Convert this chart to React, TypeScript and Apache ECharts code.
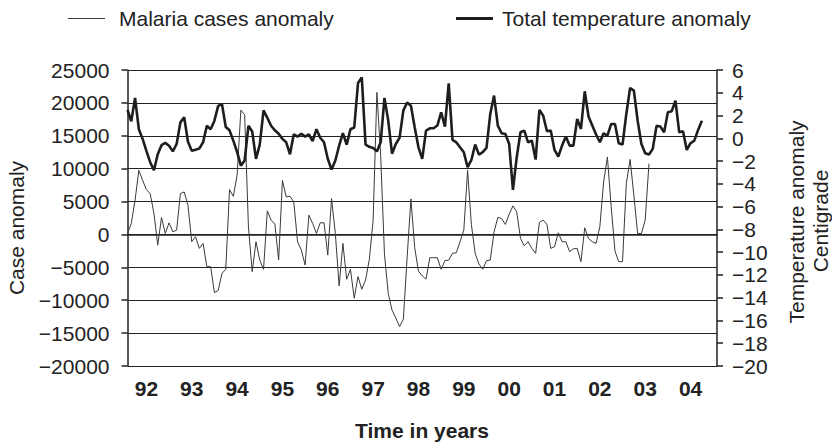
import React, { useEffect, useRef } from "react";
import * as echarts from "echarts";

const FONT = "'Liberation Sans', Arial, Helvetica, sans-serif";
const TEXT = "#222";

// Years shown on the x axis (monthly data, Jan 1992 .. Jan 2005 span)
const yearLabels = ["92", "93", "94", "95", "96", "97", "98", "99", "00", "01", "02", "03", "04"];
const monthNames = ["Jan", "Feb", "Mar", "Apr", "May", "Jun", "Jul", "Aug", "Sep", "Oct", "Nov", "Dec"];

// Malaria cases anomaly (monthly, from Jan 1992)
const malaria = [
  150, 1670, 5200, 9750, 8230, 6820, 6200, 3200, -1620, 2580,
  150, 1770, 400, 660, 6210, 6460, 4440, -1110, -350, -2120,
  -1360, -4900, -4900, -8840, -8530, -5910, -5300, 6820, 5800, 8990,
  18900, 18200, 1160, -5660, -1110, -3890, -5300, 3590, 2170, 1570,
  -3890, 8230, 5710, 5800, 4950, -1110, -2370, -4650, 2930, 1670,
  150, 1770, 1770, -3130, 5450, 150, -7830, -1360, -6820, -5300,
  -9700, -6410, -8330, -6920, -3790, 2170, 21600, 12000, -3000, -9000,
  -11500, -12700, -14000, -12900, -3500, 5400, -2000, -5600, -6300, -6800,
  -3540, -3540, -3540, -5300, -3990, -3890, -2880, -2780, -1110, 660,
  9750, 1500, -2880, -4490, -5300, -3990, -3890, 400, 2580, 2420,
  1520, 3080, 4340, 3430, -610, -1720, -1110, -2120, -2880, 1820,
  2170, 1520, -2120, -1870, 250, -1110, -1110, -2630, -2170, -2120,
  -4140, 1010, -610, -1110, -1360, 1160, 7980, 11770, 4190, -2520,
  -4140, -4140, 7730, 11410, 5960, 150, 150, 2170, 10760,
];

// Total temperature anomaly (monthly, from Jan 1992)
const temperature = [
  2.5, 1.5, 3.55, 0.8, -0.05, -1.1, -2.1, -2.8, -1.4, -0.6,
  -0.4, -0.65, -1.15, -0.5, 1.4, 1.85, -0.3, -1.1, -1.0, -0.9,
  -0.35, 1.1, 0.8, 1.55, 2.85, 3.0, 1.0, 0.7, -0.2, -1.2,
  -2.4, -1.95, 1.1, 0.6, -1.8, -0.55, 2.45, 1.8, 1.1, 0.7,
  0.4, -0.05, -0.35, -1.4, 0.35, 0.15, 0.4, 0.15, 0.35, -0.25,
  0.8, 0.05, -0.35, -1.8, -2.75, -1.95, -0.65, 0.45, -0.55, 0.8,
  0.95, 4.85, 5.35, -0.55, -0.75, -0.85, -1.15, -0.35, 3.55, 1.55,
  -1.35, -0.5, 0.05, 2.45, 3.15, 2.87, 0.97, -0.79, -1.81, 0.68,
  0.88, 0.88, 1.12, 2.29, 1.03, 4.83, -0.14, -0.35, -0.79, -1.22,
  -2.54, -1.9, -0.55, -1.43, -1.22, -0.84, 2.14, 3.75, 1.12, 0.44,
  0.38, -0.5, -4.53, -1.66, 0.53, 0.68, -0.35, -0.2, -1.87, 2.49,
  1.99, 0.62, 0.68, -1.02, -1.6, -0.64, 0.15, -0.64, -0.64, 1.7,
  0.82, 4.13, 1.91, 1.12, 0.33, -0.35, 0.44, 0.24, 1.26, 1.26,
  -0.43, -0.55, 2.14, 4.42, 4.19, 1.55, -0.5, -1.31, -1.43, -0.93,
  1.09, 1.03, 0.53, 2.29, 2.37, 3.31, 0.53, 0.62, -1.02, -0.43,
  -0.2, 0.74, 1.55,
];

const categories: string[] = [];
for (let i = 0; i <= yearLabels.length * 12; i++) {
  categories.push(`${monthNames[i % 12]} ${1992 + Math.floor(i / 12)}`);
}

const fmtNum = (v: number) => (v < 0 ? "\u2212" + Math.abs(v) : String(v));

export default function App() {
  const ref = useRef<HTMLDivElement>(null);
  useEffect(() => {
    document.body.style.margin = "0";
    if (!ref.current) return;
    const chart = echarts.init(ref.current, undefined, { renderer: "svg" });
    const axisLine = { show: true, lineStyle: { color: TEXT, width: 1.5 } };
    chart.setOption({
      animation: false,
      textStyle: { fontFamily: FONT },
      legend: [
        {
          data: ["Malaria cases anomaly"],
          left: 63,
          top: 3,
          icon: "rect",
          itemWidth: 37,
          itemHeight: 1.2,
          textStyle: { fontSize: 21, color: TEXT, fontFamily: FONT, padding: [0, 0, 0, 9] },
        },
        {
          data: ["Total temperature anomaly"],
          left: 451,
          top: 3,
          icon: "rect",
          itemWidth: 37,
          itemHeight: 2.8,
          textStyle: { fontSize: 21, color: TEXT, fontFamily: FONT, padding: [0, 0, 0, 4] },
        },
      ],
      grid: { left: 127.5, right: 115, top: 70, bottom: 79, containLabel: false },
      xAxis: {
        type: "category",
        boundaryGap: false,
        data: categories,
        axisLine,
        axisTick: { show: false },
        splitLine: { show: false },
        axisLabel: {
          interval: (index: number) => index % 12 === 5,
          formatter: (_v: string, index: number) => yearLabels[Math.floor(index / 12)] ?? "",
          fontSize: 21,
          fontWeight: "bold",
          color: TEXT,
          fontFamily: FONT,
          margin: 12,
        },
      },
      yAxis: [
        {
          type: "value",
          min: -20000,
          max: 25000,
          interval: 5000,
          axisLine,
          axisTick: { show: true, length: 6, lineStyle: { color: TEXT, width: 1.5 } },
          axisLabel: { fontSize: 21, color: TEXT, fontFamily: FONT, margin: 18, formatter: fmtNum },
          splitLine: { show: true, lineStyle: { color: TEXT, width: 1.2 } },
        },
        {
          type: "value",
          position: "right",
          min: -20,
          max: 6,
          interval: 2,
          axisLine,
          axisTick: { show: true, length: 6, lineStyle: { color: TEXT, width: 1.5 } },
          axisLabel: { fontSize: 21, color: TEXT, fontFamily: FONT, margin: 15, formatter: fmtNum },
          splitLine: { show: false },
        },
      ],
      graphic: [
        {
          type: "text",
          x: 16,
          y: 228,
          rotation: Math.PI / 2,
          style: { text: "Case anomaly", fontSize: 21, fontFamily: FONT, fill: TEXT, align: "center", verticalAlign: "middle" },
        },
        {
          type: "text",
          x: 796,
          y: 222,
          rotation: Math.PI / 2,
          style: { text: "Temperature anomaly", fontSize: 21, fontFamily: FONT, fill: TEXT, align: "center", verticalAlign: "middle" },
        },
        {
          type: "text",
          x: 820,
          y: 221,
          rotation: Math.PI / 2,
          style: { text: "Centigrade", fontSize: 21, fontFamily: FONT, fill: TEXT, align: "center", verticalAlign: "middle" },
        },
        {
          type: "text",
          x: 422,
          y: 430,
          style: { text: "Time in years", fontSize: 21, fontWeight: "bold", fontFamily: FONT, fill: TEXT, align: "center", verticalAlign: "middle" },
        },
      ],
      series: [
        {
          name: "Malaria cases anomaly",
          type: "line",
          yAxisIndex: 0,
          data: malaria,
          symbol: "none",
          color: "#3a3a3a",
          lineStyle: { color: "#3a3a3a", width: 1 },
          z: 3,
        },
        {
          name: "Total temperature anomaly",
          type: "line",
          yAxisIndex: 1,
          data: temperature,
          symbol: "none",
          color: "#1e1e1e",
          lineStyle: { color: "#1e1e1e", width: 2.6 },
          z: 4,
        },
      ],
    });
    return () => chart.dispose();
  }, []);
  return <div ref={ref} style={{ width: 832, height: 445 }} />;
}
